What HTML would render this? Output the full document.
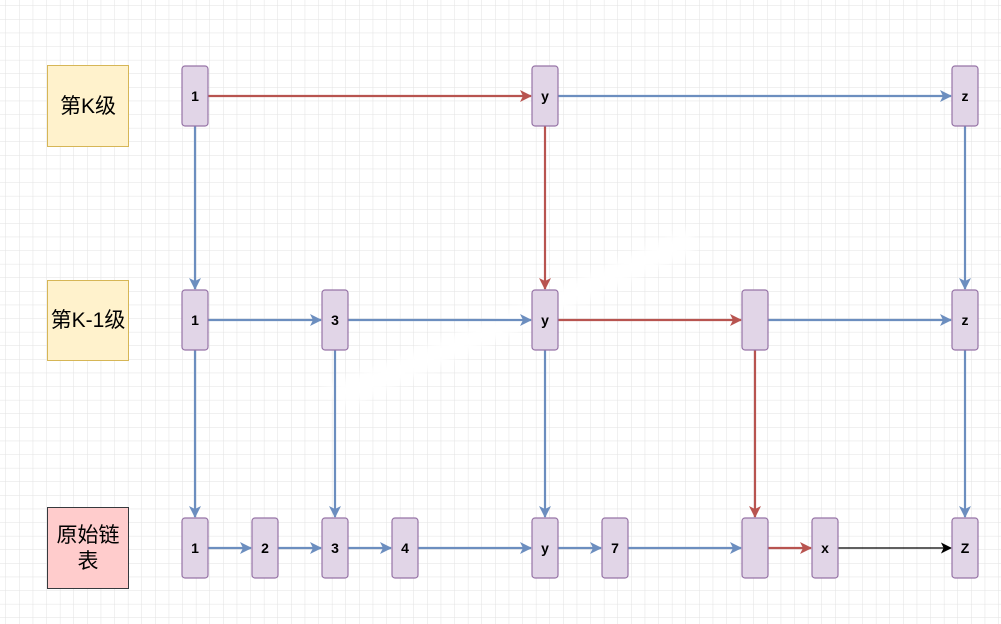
<!DOCTYPE html>
<html><head><meta charset="utf-8"><style>
html,body{margin:0;padding:0;background:#fff;}
svg{display:block;}
text{font-family:"Liberation Sans","Noto Sans CJK SC",sans-serif;}
</style></head><body>
<svg width="1001" height="624" viewBox="0 0 1001 624" xmlns="http://www.w3.org/2000/svg">
<defs>
<pattern id="g" x="6" y="6" width="13.6" height="13.6" patternUnits="userSpaceOnUse">
<path d="M13.6 0V13.6M0 13.6H13.6" fill="none" stroke="#e2e2e2" stroke-width="1"/>
</pattern>
<marker id="ab" viewBox="0 0 12 12" refX="11" refY="6" markerWidth="12" markerHeight="12" markerUnits="userSpaceOnUse" orient="auto"><path d="M0 0L12 6L0 12L3 6Z" fill="#6c8ebf"/></marker>
<marker id="ar" viewBox="0 0 12 12" refX="11" refY="6" markerWidth="12" markerHeight="12" markerUnits="userSpaceOnUse" orient="auto"><path d="M0 0L12 6L0 12L3 6Z" fill="#b85450"/></marker>
<marker id="ak" viewBox="0 0 12 12" refX="11" refY="6" markerWidth="11" markerHeight="11" markerUnits="userSpaceOnUse" orient="auto"><path d="M0 0L12 6L0 12L3 6Z" fill="#000"/></marker>
<filter id="bl"><feGaussianBlur stdDeviation="4"/></filter>
</defs>
<rect width="1001" height="624" fill="url(#g)"/>
<polygon points="320,390 480,325 690,228 695,250 540,320 350,405" fill="#fff" filter="url(#bl)"/>

<rect x="47.5" y="65.5" width="81" height="81" fill="#fff2cc" stroke="#d6b656"/>
<text x="88" y="113" font-size="21" text-anchor="middle">第K级</text>
<rect x="47.5" y="280.5" width="81" height="80" fill="#fff2cc" stroke="#d6b656"/>
<text x="88" y="327" font-size="21" text-anchor="middle">第K-1级</text>
<rect x="47.5" y="507.5" width="81" height="81" fill="#ffcccc" stroke="#36393d"/>
<text x="88" y="542" font-size="21" text-anchor="middle">原始链</text>
<text x="88" y="568" font-size="21" text-anchor="middle">表</text>

<g stroke-width="2.2" fill="none">
<line x1="208" y1="96" x2="531" y2="96" stroke="#b85450" marker-end="url(#ar)"/>
<line x1="558" y1="96" x2="951" y2="96" stroke="#6c8ebf" marker-end="url(#ab)"/>
<line x1="195" y1="126" x2="195" y2="289" stroke="#6c8ebf" marker-end="url(#ab)"/>
<line x1="545" y1="126" x2="545" y2="289" stroke="#b85450" marker-end="url(#ar)"/>
<line x1="965" y1="126" x2="965" y2="289" stroke="#6c8ebf" marker-end="url(#ab)"/>
<line x1="208" y1="320" x2="321" y2="320" stroke="#6c8ebf" marker-end="url(#ab)"/>
<line x1="348" y1="320" x2="531" y2="320" stroke="#6c8ebf" marker-end="url(#ab)"/>
<line x1="558" y1="320" x2="741" y2="320" stroke="#b85450" marker-end="url(#ar)"/>
<line x1="768" y1="320" x2="951" y2="320" stroke="#6c8ebf" marker-end="url(#ab)"/>
<line x1="195" y1="350" x2="195" y2="517" stroke="#6c8ebf" marker-end="url(#ab)"/>
<line x1="335" y1="350" x2="335" y2="517" stroke="#6c8ebf" marker-end="url(#ab)"/>
<line x1="545" y1="350" x2="545" y2="517" stroke="#6c8ebf" marker-end="url(#ab)"/>
<line x1="755" y1="350" x2="755" y2="517" stroke="#b85450" marker-end="url(#ar)"/>
<line x1="965" y1="350" x2="965" y2="517" stroke="#6c8ebf" marker-end="url(#ab)"/>
<line x1="208" y1="548" x2="251" y2="548" stroke="#6c8ebf" marker-end="url(#ab)"/>
<line x1="278" y1="548" x2="321" y2="548" stroke="#6c8ebf" marker-end="url(#ab)"/>
<line x1="348" y1="548" x2="391" y2="548" stroke="#6c8ebf" marker-end="url(#ab)"/>
<line x1="418" y1="548" x2="531" y2="548" stroke="#6c8ebf" marker-end="url(#ab)"/>
<line x1="558" y1="548" x2="601" y2="548" stroke="#6c8ebf" marker-end="url(#ab)"/>
<line x1="628" y1="548" x2="741" y2="548" stroke="#6c8ebf" marker-end="url(#ab)"/>
<line x1="768" y1="548" x2="811" y2="548" stroke="#b85450" marker-end="url(#ar)"/>
<line x1="838" y1="548" x2="951" y2="548" stroke="#000" stroke-width="1.2" marker-end="url(#ak)"/>
</g>

<g fill="#e1d5e7" stroke="#9673a6" stroke-width="1.2">
<rect x="182" y="66" width="26" height="60" rx="3"/>
<rect x="532" y="66" width="26" height="60" rx="3"/>
<rect x="952" y="66" width="26" height="60" rx="3"/>
<rect x="182" y="290" width="26" height="60" rx="3"/>
<rect x="322" y="290" width="26" height="60" rx="3"/>
<rect x="532" y="290" width="26" height="60" rx="3"/>
<rect x="742" y="290" width="26" height="60" rx="3"/>
<rect x="952" y="290" width="26" height="60" rx="3"/>
<rect x="182" y="518" width="26" height="60" rx="3"/>
<rect x="252" y="518" width="26" height="60" rx="3"/>
<rect x="322" y="518" width="26" height="60" rx="3"/>
<rect x="392" y="518" width="26" height="60" rx="3"/>
<rect x="532" y="518" width="26" height="60" rx="3"/>
<rect x="602" y="518" width="26" height="60" rx="3"/>
<rect x="742" y="518" width="26" height="60" rx="3"/>
<rect x="812" y="518" width="26" height="60" rx="3"/>
<rect x="952" y="518" width="26" height="60" rx="3"/>
</g>
<g font-size="14" font-weight="bold" text-anchor="middle" fill="#000">
<text x="195" y="101">1</text>
<text x="545" y="101">y</text>
<text x="965" y="101">z</text>
<text x="195" y="325">1</text>
<text x="335" y="325">3</text>
<text x="545" y="325">y</text>
<text x="965" y="325">z</text>
<text x="195" y="553">1</text>
<text x="265" y="553">2</text>
<text x="335" y="553">3</text>
<text x="405" y="553">4</text>
<text x="545" y="553">y</text>
<text x="615" y="553">7</text>
<text x="825" y="553">x</text>
<text x="965" y="553">Z</text>
</g>
</svg>
</body></html>
